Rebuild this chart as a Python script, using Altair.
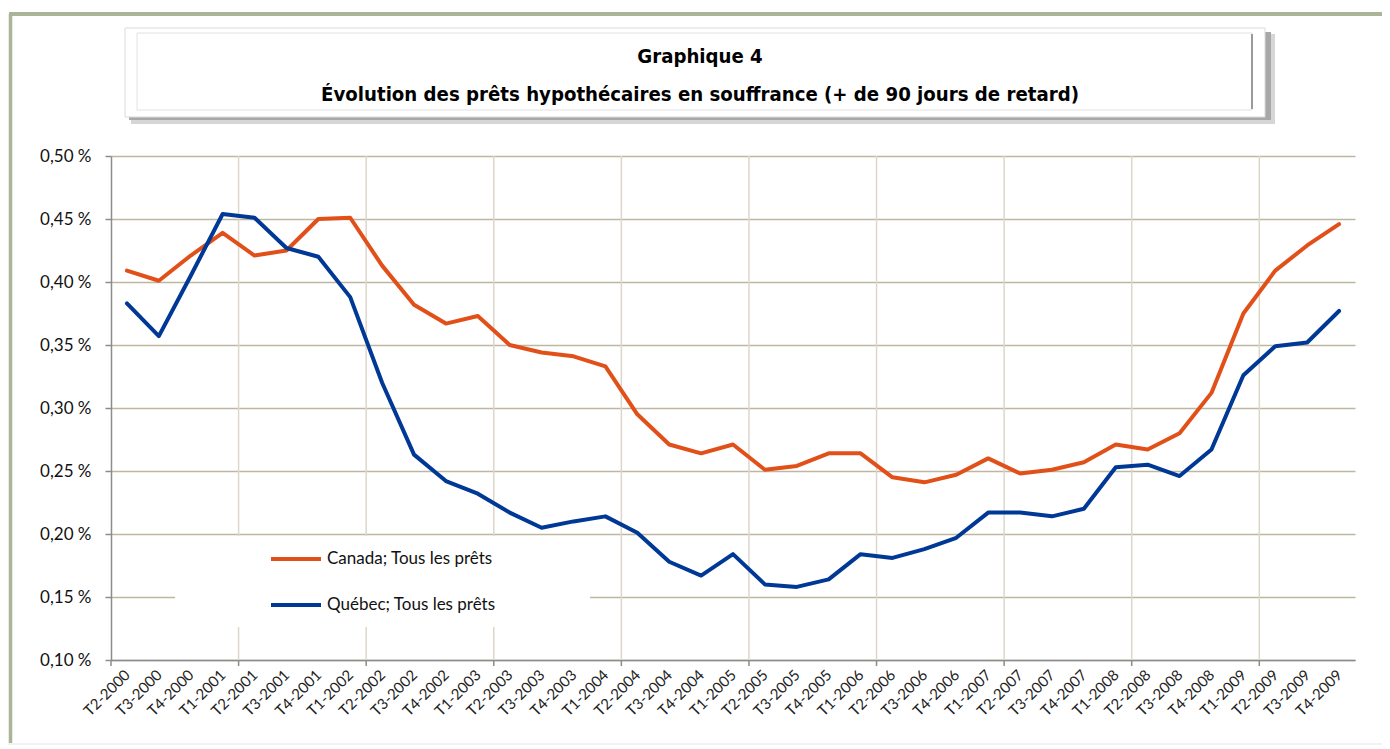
import altair as alt
import pandas as pd

quarters = ["T2-2000", "T3-2000", "T4-2000",
            "T1-2001", "T2-2001", "T3-2001", "T4-2001",
            "T1-2002", "T2-2002", "T3-2002", "T4-2002",
            "T1-2003", "T2-2003", "T3-2003", "T4-2003",
            "T1-2004", "T2-2004", "T3-2004", "T4-2004",
            "T1-2005", "T2-2005", "T3-2005", "T4-2005",
            "T1-2006", "T2-2006", "T3-2006", "T4-2006",
            "T1-2007", "T2-2007", "T3-2007", "T4-2007",
            "T1-2008", "T2-2008", "T3-2008", "T4-2008",
            "T1-2009", "T2-2009", "T3-2009", "T4-2009"]

canada = [0.409, 0.401, 0.421, 0.439, 0.421, 0.425, 0.450, 0.451, 0.413, 0.382,
          0.367, 0.373, 0.350, 0.344, 0.341, 0.333, 0.295, 0.271, 0.264, 0.271,
          0.251, 0.254, 0.264, 0.264, 0.245, 0.241, 0.247, 0.260, 0.248, 0.251,
          0.257, 0.271, 0.267, 0.280, 0.312, 0.375, 0.409, 0.429, 0.446]
quebec = [0.383, 0.357, 0.405, 0.454, 0.451, 0.427, 0.420, 0.388, 0.320, 0.263,
          0.242, 0.232, 0.217, 0.205, 0.210, 0.214, 0.201, 0.178, 0.167, 0.184,
          0.160, 0.158, 0.164, 0.184, 0.181, 0.188, 0.197, 0.217, 0.217, 0.214,
          0.220, 0.253, 0.255, 0.246, 0.267, 0.326, 0.349, 0.352, 0.377]

series_names = ["Canada; Tous les prêts", "Québec; Tous les prêts"]
series_colors = ["#e2501a", "#003896"]
y_ticks = [0.10, 0.15, 0.20, 0.25, 0.30, 0.35, 0.40, 0.45, 0.50]
title_line1 = "Graphique 4"
title_line2 = "Évolution des prêts hypothécaires en souffrance (+ de 90 jours de retard)"

W, H = 1244, 504
LABEL_FONT = "Lato"
TITLE_FONT = "Liberation Sans Narrow, Arial Narrow, DejaVu Sans Condensed, Liberation Sans"

rows = []
for name, vals in zip(series_names, [canada, quebec]):
    for q, v in zip(quarters, vals):
        rows.append({"quarter": q, "series": name, "value": v})
df = pd.DataFrame(rows)

grid_df = pd.DataFrame({"quarter": quarters[4::4]})
tick_df = pd.DataFrame({"quarter": quarters[0::4]})
one = pd.DataFrame({"a": [0]})

xscale = alt.Scale(domain=quarters, type="point", padding=0.5)
step = W / len(quarters)

# decorations (frame, title box)
frame_top = alt.Chart(one).mark_rule(color="#a9b596", strokeWidth=4).encode(
    x=alt.value(-102), x2=alt.value(1290), y=alt.value(-142))
frame_left = alt.Chart(one).mark_rule(color="#a9b596", strokeWidth=3.5).encode(
    x=alt.value(-100.5), y=alt.value(-142), y2=alt.value(587))
bottom_band = alt.Chart(one).mark_rect(color="#f2f2f2").encode(
    x=alt.value(-110), x2=alt.value(1290), y=alt.value(587), y2=alt.value(620))

shadow2 = alt.Chart(one).mark_rect(color="#d6d6d6").encode(
    x=alt.value(20), x2=alt.value(1164), y=alt.value(-122), y2=alt.value(-32))
shadow1 = alt.Chart(one).mark_rect(color="#a8a8a8").encode(
    x=alt.value(18), x2=alt.value(1160), y=alt.value(-124), y2=alt.value(-36))
title_box = alt.Chart(one).mark_rect(fill="white", stroke="#dadada", strokeWidth=1).encode(
    x=alt.value(14), x2=alt.value(1154), y=alt.value(-128), y2=alt.value(-39))
inner_box = alt.Chart(one).mark_rect(fill="white", stroke="#e2e2e2", strokeWidth=1).encode(
    x=alt.value(26), x2=alt.value(1141), y=alt.value(-123), y2=alt.value(-46))
inner_right = alt.Chart(one).mark_rule(color="#9a9a9a", strokeWidth=2).encode(
    x=alt.value(1141), y=alt.value(-122), y2=alt.value(-47))
t1 = alt.Chart(one).mark_text(font=TITLE_FONT, fontSize=20.2, fontWeight="bold",
                              color="#000000", baseline="middle").encode(
    x=alt.value(589), y=alt.value(-99), text=alt.value(title_line1))
t2 = alt.Chart(one).mark_text(font=TITLE_FONT, fontSize=20.2, fontWeight="bold",
                              color="#000000", baseline="middle").encode(
    x=alt.value(589), y=alt.value(-61), text=alt.value(title_line2))

vgrid = alt.Chart(grid_df).mark_rule(color="#ddd7ca", strokeWidth=1.5, xOffset=-step / 2).encode(
    x=alt.X("quarter:O", scale=xscale, sort=quarters, title=None),
    y=alt.value(0), y2=alt.value(H))
xticks = alt.Chart(tick_df).mark_rule(color="#8c8c8c", strokeWidth=1.5, xOffset=-step / 2).encode(
    x=alt.X("quarter:O", scale=xscale, sort=quarters, title=None),
    y=alt.value(H), y2=alt.value(H + 6))

legend_bg = alt.Chart(one).mark_rect(color="white").encode(
    x=alt.value(64), x2=alt.value(479), y=alt.value(380), y2=alt.value(471))

lines = alt.Chart(df).mark_line(strokeWidth=4, strokeJoin="round", strokeCap="round").encode(
    x=alt.X("quarter:O", scale=xscale, sort=quarters, title=None,
            axis=alt.Axis(labelAngle=-45, grid=False, ticks=False, domainColor="#8c8c8c",
                          domainWidth=1.5, labelFont=LABEL_FONT, labelFontSize=15,
                          labelColor="#222222", labelPadding=12)),
    y=alt.Y("value:Q", scale=alt.Scale(domain=[0.10, 0.50], nice=False, zero=False), title=None,
            axis=alt.Axis(values=y_ticks, grid=True, gridColor="#bfb6a0", gridWidth=1.5,
                          domainColor="#8c8c8c", domainWidth=1.5, tickColor="#8c8c8c",
                          tickSize=6, tickWidth=1.5, labelFont=LABEL_FONT, labelFontSize=17,
                          labelColor="#111111", labelPadding=14,
                          labelExpr="replace(format(datum.value, '.2f'), '.', ',') + ' %'")),
    color=alt.Color("series:N", scale=alt.Scale(domain=series_names, range=series_colors),
                    sort=series_names,
                    legend=alt.Legend(title=None, orient="none", legendX=158, legendY=376,
                                      symbolType="stroke", symbolSize=2500,
                                      symbolStrokeWidth=4, labelFont=LABEL_FONT,
                                      labelFontSize=17, labelColor="#111111", labelLimit=0,
                                      rowPadding=11, labelOffset=4, padding=0)),
)

chart = alt.layer(
    frame_top, frame_left, bottom_band,
    shadow2, shadow1, title_box, inner_box, inner_right, t1, t2,
    vgrid, legend_bg, xticks, lines
).properties(
    width=W, height=H,
    autosize=alt.AutoSizeParams(type="none"),
    padding={"left": 103, "top": 148, "right": 27, "bottom": 85},
    background="white",
).configure_view(stroke=None)

chart.save("out.html", embed_options={"renderer": "svg", "actions": False})
